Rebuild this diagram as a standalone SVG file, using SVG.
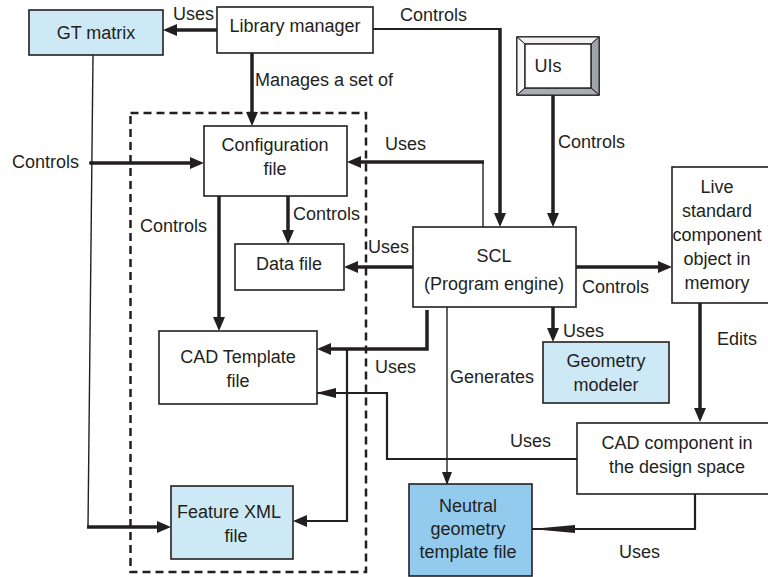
<svg xmlns="http://www.w3.org/2000/svg" width="768" height="577" viewBox="0 0 768 577">
<style>
text{font-family:"Liberation Sans",Arial,sans-serif;font-size:18px;fill:#231f20}
.c{text-anchor:middle}
.box{fill:#fff;stroke:#231f20;stroke-width:1.6}
.lb{fill:#cde9f5;stroke:#231f20;stroke-width:1.6}
.db{fill:#93cbee;stroke:#231f20;stroke-width:1.6}
.th{fill:none;stroke:#231f20;stroke-width:3.5}
.md{fill:none;stroke:#231f20;stroke-width:2.2}
.tn{fill:none;stroke:#231f20;stroke-width:1.4}
</style>
<defs>
<marker id="ah" markerWidth="14" markerHeight="12" refX="10" refY="6" orient="auto" markerUnits="userSpaceOnUse"><path d="M0,0 L14,6 L0,12 z" fill="#231f20"/></marker>
<marker id="aht" markerWidth="13" markerHeight="10" refX="12" refY="5" orient="auto" markerUnits="userSpaceOnUse"><path d="M0,0 L13,5 L0,10 z" fill="#231f20"/></marker>
<marker id="ahm" markerWidth="20" markerHeight="10" refX="19" refY="5" orient="auto" markerUnits="userSpaceOnUse"><path d="M0,0 L20,5 L0,10 z" fill="#231f20"/></marker>
<marker id="ahl" markerWidth="44" markerHeight="8" refX="43" refY="4" orient="auto" markerUnits="userSpaceOnUse"><path d="M0,0 L44,4 L0,8 z" fill="#231f20"/></marker>
</defs>

<rect x="130.5" y="113" width="235.5" height="459" fill="none" stroke="#231f20" stroke-width="2.5" stroke-dasharray="8,5"/>

<g id="connectors">
<path class="th" d="M217,30 L167,30" marker-end="url(#ah)"/>
<path class="md" d="M373,29 L500,29"/>
<path class="th" d="M500,28 L500,223" marker-end="url(#ah)"/>
<path class="th" d="M252,53 L252,122" marker-end="url(#ah)"/>
<path class="th" d="M91,163 L200,163" marker-end="url(#ah)"/>
<circle cx="91" cy="163" r="2" fill="#231f20"/>
<path class="tn" d="M93,55 L88,527"/>
<path class="th" d="M87,527 L167,527" marker-end="url(#ah)"/>
<path class="tn" d="M483,227 L483,162"/>
<path class="th" d="M484,162 L351,162" marker-end="url(#ah)"/>
<path class="th" d="M288,196 L288,240" marker-end="url(#ah)"/>
<path class="th" d="M413,267 L348,267" marker-end="url(#ah)"/>
<path class="th" d="M219,196 L219,327" marker-end="url(#ah)"/>
<path class="th" d="M553,95 L553,223" marker-end="url(#ah)"/>
<path class="th" d="M576,267 L668,267" marker-end="url(#ah)"/>
<path class="th" d="M700,303 L700,418" marker-end="url(#ah)"/>
<path class="th" d="M553,307 L553,338" marker-end="url(#ah)"/>
<path class="th" d="M427,310 L427,349 L321,349" marker-end="url(#ah)"/>
<path class="md" d="M347,349 L347,521 L297,521" marker-end="url(#ah)"/>
<path class="md" d="M577,459 L387,459 L387,393 L317,393" marker-end="url(#ahm)"/>
<path class="tn" d="M447,307 L447,484" marker-end="url(#aht)"/>
<path class="md" d="M695,494 L695,529 L532,529" marker-end="url(#ahl)"/>
</g>

<g id="gt-matrix"><rect class="lb" x="29" y="10" width="134" height="45"/><text class="c" x="96" y="39">GT matrix</text></g>
<g id="library-manager"><rect class="box" x="217" y="7" width="156" height="46"/><text class="c" x="295" y="32">Library manager</text></g>
<g id="uis">
<rect x="517" y="37" width="82" height="58" fill="#fff" stroke="#231f20" stroke-width="1.6"/>
<polygon points="517,37 599,37 591,44 525,44" fill="#f2f2f2" stroke="#231f20" stroke-width="1"/>
<polygon points="517,37 525,44 525,88 517,95" fill="#f7f7f7" stroke="#231f20" stroke-width="1"/>
<polygon points="599,37 599,95 591,88 591,44" fill="#9ea4a9" stroke="#231f20" stroke-width="1"/>
<polygon points="517,95 599,95 591,88 525,88" fill="#a9aeb3" stroke="#231f20" stroke-width="1"/>
<rect x="525" y="44" width="66" height="44" fill="#fff" stroke="#231f20" stroke-width="1.4"/>
<text class="c" x="548" y="72">UIs</text>
</g>
<g id="configuration-file"><rect class="box" x="204" y="126" width="143" height="70"/><text class="c" x="275" y="151">Configuration</text><text class="c" x="275" y="175">file</text></g>
<g id="data-file"><rect class="box" x="235" y="244" width="109" height="46"/><text class="c" x="289" y="270">Data file</text></g>
<g id="scl"><rect class="box" x="413" y="227" width="163" height="80"/><text class="c" x="494" y="262">SCL</text><text class="c" x="494" y="290">(Program engine)</text></g>
<g id="live-object"><rect class="box" x="672" y="167" width="110" height="136"/>
<text class="c" x="717" y="193">Live</text><text class="c" x="717" y="217">standard</text><text class="c" x="717" y="241">component</text><text class="c" x="717" y="265">object in</text><text class="c" x="717" y="289">memory</text></g>
<g id="geometry-modeler"><rect class="lb" x="543" y="342" width="126" height="61"/><text class="c" x="606" y="367">Geometry</text><text class="c" x="606" y="391">modeler</text></g>
<g id="cad-template"><rect class="box" x="159" y="331" width="158" height="73"/><text class="c" x="238" y="363">CAD Template</text><text class="c" x="238" y="387">file</text></g>
<g id="cad-component"><rect class="box" x="577" y="423" width="200" height="71"/><text class="c" x="677" y="449">CAD component in</text><text class="c" x="677" y="473">the design space</text></g>
<g id="neutral-template"><rect class="db" x="409" y="484" width="123" height="92"/><text class="c" x="468" y="512">Neutral</text><text class="c" x="468" y="535">geometry</text><text class="c" x="468" y="558">template file</text></g>
<g id="feature-xml"><rect class="lb" x="171" y="486" width="122" height="73"/><text class="c" x="229" y="518">Feature XML</text><text class="c" x="236" y="542">file</text></g>

<g id="labels">
<text x="173" y="20">Uses</text>
<text x="400" y="21">Controls</text>
<text x="255" y="86">Manages a set of</text>
<text x="385" y="150">Uses</text>
<text x="12" y="168">Controls</text>
<text x="558" y="148">Controls</text>
<text x="293" y="220">Controls</text>
<text x="140" y="232">Controls</text>
<text x="368" y="253">Uses</text>
<text x="582" y="293">Controls</text>
<text x="563" y="337">Uses</text>
<text x="717" y="345">Edits</text>
<text x="375" y="373">Uses</text>
<text x="450" y="383">Generates</text>
<text x="510" y="447">Uses</text>
<text x="619" y="558">Uses</text>
</g>
</svg>
